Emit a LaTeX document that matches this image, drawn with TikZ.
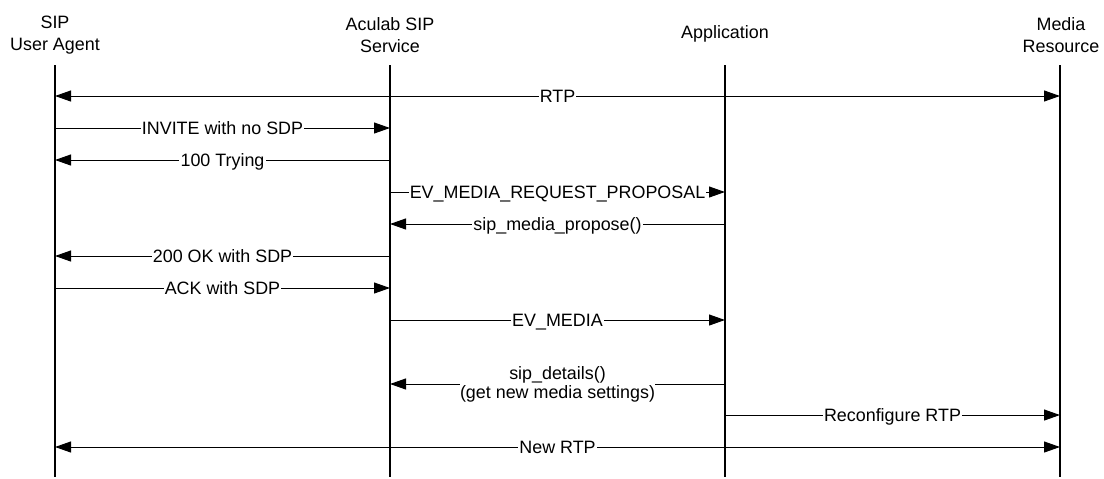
\documentclass[tikz,border=0pt]{standalone}
\usepackage{fontspec}
\setmainfont{Liberation Sans}
\usetikzlibrary{arrows.meta}
\begin{document}
\begin{tikzpicture}[x=0.5pt,y=-0.5pt,
  font=\fontsize{8.95}{11}\selectfont,
  head/.style={align=center, inner sep=0pt},
  lifeline/.style={line width=1.2pt},
  tip/.tip={Triangle[length=8pt,width=5.5pt]},
  msg/.style={line width=0.5pt, -tip},
  msgboth/.style={line width=0.5pt, tip-tip},
  lbl/.style={fill=white, inner sep=0.6pt, text height=6.4pt, text depth=0pt},
  lbltwo/.style={fill=white, inner sep=0pt, align=center,
    font=\fontsize{8.95}{9.5}\selectfont}]

  % page frame
  \path (0,0) rectangle (1104,477);

  % participants
  \node[head] (uaH) at (55,35)   {SIP\\User Agent};
  \node[head] (asH) at (390,35)  {Aculab SIP\\Service};
  \node[head] (apH) at (725,33.5){Application};
  \node[head] (mrH) at (1061,35) {Media\\Resource};

  % lifeline ends
  \coordinate (uaT) at (55,65);   \coordinate (uaB) at (55,477);
  \coordinate (asT) at (390,65);  \coordinate (asB) at (390,477);
  \coordinate (apT) at (725,65);  \coordinate (apB) at (725,477);
  \coordinate (mrT) at (1060,65); \coordinate (mrB) at (1060,477);

  \draw[lifeline] (uaT) -- (uaB);
  \draw[lifeline] (asT) -- (asB);
  \draw[lifeline] (apT) -- (apB);
  \draw[lifeline] (mrT) -- (mrB);

  % message rows
  \coordinate (r1)  at (0,96);
  \coordinate (r2)  at (0,128);
  \coordinate (r3)  at (0,160);
  \coordinate (r4)  at (0,192);
  \coordinate (r5)  at (0,224);
  \coordinate (r6)  at (0,256);
  \coordinate (r7)  at (0,288);
  \coordinate (r8)  at (0,320);
  \coordinate (r9)  at (0,384);
  \coordinate (r10) at (0,415);
  \coordinate (r11) at (0,447);

  % messages
  \draw[msgboth] (uaT |- r1) -- node[lbl] {RTP} (mrT |- r1);
  \draw[msg] (uaT |- r2) -- node[lbl] {INVITE with no SDP} (asT |- r2);
  \draw[msg] (asT |- r3) -- node[lbl] {100 Trying} (uaT |- r3);
  \draw[msg] (asT |- r4) -- node[lbl] {EV\_MEDIA\_REQUEST\_PROPOSAL} (apT |- r4);
  \draw[msg] (apT |- r5) -- node[lbl] {sip\_media\_propose()} (asT |- r5);
  \draw[msg] (asT |- r6) -- node[lbl] {200 OK with SDP} (uaT |- r6);
  \draw[msg] (uaT |- r7) -- node[lbl] {ACK with SDP} (asT |- r7);
  \draw[msg] (asT |- r8) -- node[lbl] {EV\_MEDIA} (apT |- r8);
  \draw[msg] (apT |- r9) -- node[lbltwo] {sip\_details()\\(get new media settings)} (asT |- r9);
  \draw[msg] (apT |- r10) -- node[lbl] {Reconfigure RTP} (mrT |- r10);
  \draw[msgboth] (uaT |- r11) -- node[lbl] {New RTP} (mrT |- r11);
\end{tikzpicture}
\end{document}
